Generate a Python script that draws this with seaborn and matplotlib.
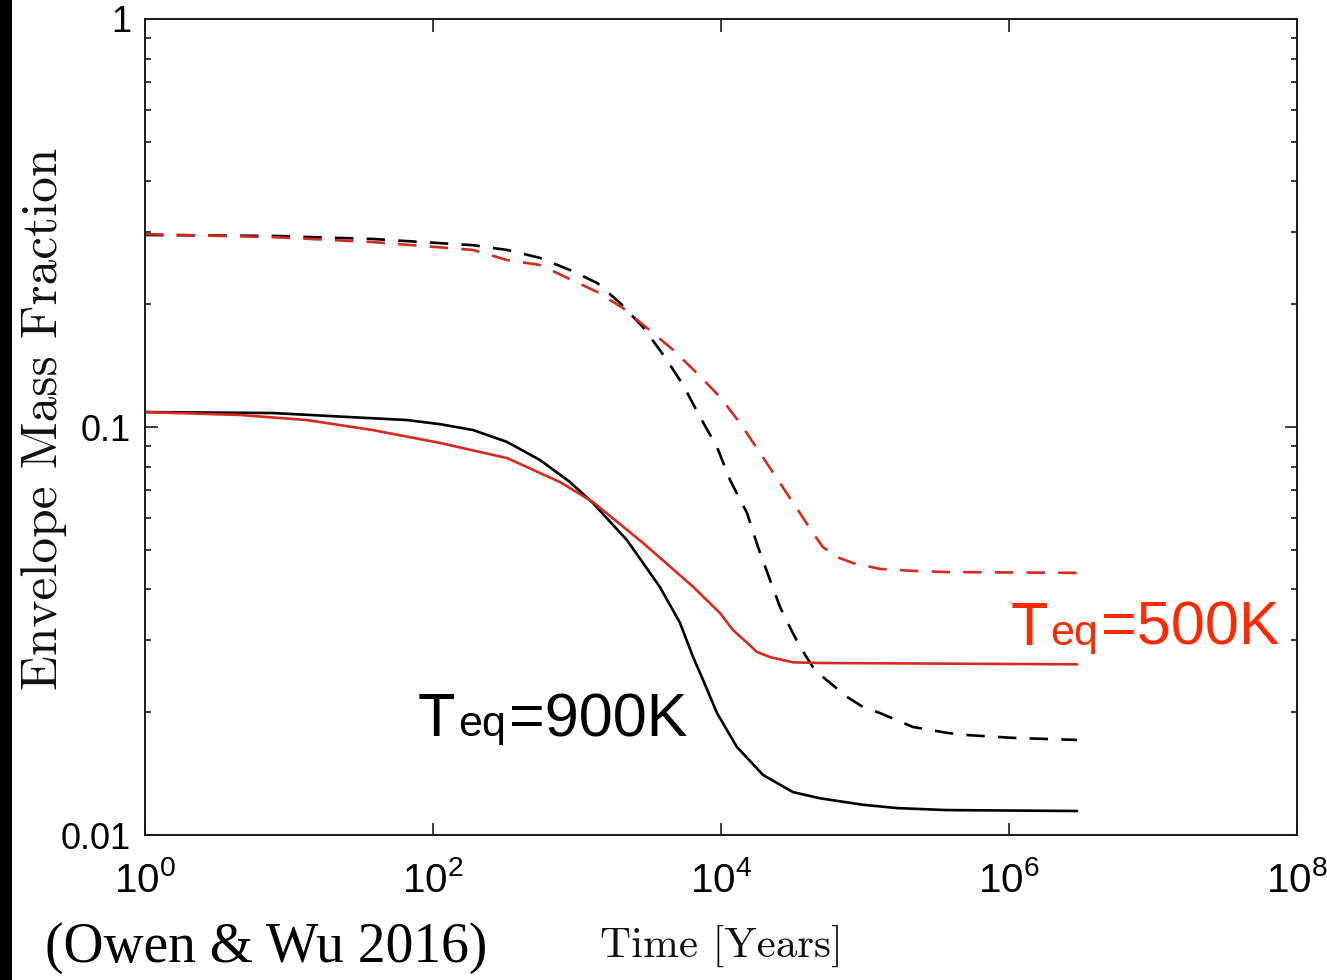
import matplotlib
matplotlib.use("Agg")
import numpy as np
import pandas as pd
import seaborn as sns
import matplotlib.pyplot as plt
from matplotlib.ticker import FixedLocator, FuncFormatter, LogLocator, NullLocator, NullFormatter
from matplotlib.patches import Rectangle
from matplotlib.offsetbox import TextArea, HPacker, AnnotationBbox

# ---- data (time in years, envelope mass fraction) ----
t_900_solid = [1, 7.7, 66, 112, 190, 327, 553, 894, 1291, 2224, 3770, 5190,
               6400, 7500, 9380, 12900, 19600, 31600, 48800, 96900, 166700,
               370000, 2970000]
f_900_solid = [0.1088, 0.1082, 0.1040, 0.1016, 0.0983, 0.0919, 0.0830, 0.0733,
               0.0651, 0.0528, 0.0405, 0.0331, 0.0273, 0.0240, 0.0199, 0.01643,
               0.01403, 0.01274, 0.0123, 0.01186, 0.01164, 0.01151, 0.01145]

t_500_solid = [1, 4.6, 13.3, 38, 112, 327, 762, 1290, 2870, 6400, 9840, 12110,
               15170, 17780, 21880, 31600, 48800, 2970000]
f_500_solid = [0.1088, 0.1070, 0.1040, 0.0983, 0.0914, 0.0839, 0.0733, 0.0655,
               0.0520, 0.0406, 0.0350, 0.0318, 0.0296, 0.0281, 0.0273, 0.0265,
               0.0264, 0.0262]

t_900_dash = [1, 7.7, 38, 190, 327, 553, 894, 1380, 1990, 2870, 4080, 5450,
              7140, 9380, 11560, 15170, 18070, 21880, 25700, 30100, 35400,
              43500, 51000, 75000, 96900, 127000, 215000, 371000, 480000,
              1070000, 2970000]
f_900_dash = [0.2955, 0.294, 0.289, 0.279, 0.2716, 0.2597, 0.2425, 0.2254,
              0.2014, 0.1758, 0.1484, 0.1268, 0.1059, 0.0893, 0.0741, 0.0615,
              0.0508, 0.0422, 0.0362, 0.0323, 0.0289, 0.0258, 0.0244, 0.0218,
              0.0206, 0.0199, 0.0184, 0.0178, 0.0176, 0.0173, 0.0171]

t_500_dash = [1, 7.7, 38, 190, 327, 553, 1380, 2080, 3060, 4650, 6800, 9840,
              13550, 18660, 25700, 35400, 43500, 51000, 63900, 82600, 127000,
              215000, 370000, 2970000]
f_500_dash = [0.297, 0.292, 0.284, 0.2716, 0.2566, 0.2495, 0.2143, 0.1958,
              0.1749, 0.1545, 0.1356, 0.1185, 0.1023, 0.0864, 0.0729, 0.0615,
              0.0550, 0.0508, 0.0480, 0.0464, 0.0449, 0.0444, 0.0441, 0.0439]

x_ticks = [1e0, 1e2, 1e4, 1e6, 1e8]
y_ticks = [0.01, 0.1, 1]
y_tick_labels = ["0.01", "0.1", "1"]

RED_LINE = "#d62a20"
RED_TEXT = "#ff2a00"

sns.set_theme(style="ticks")
plt.rcParams.update({
    "font.family": ["Liberation Sans", "DejaVu Sans"],
    "mathtext.fontset": "custom",
    "mathtext.rm": "Liberation Sans",
    "mathtext.it": "Liberation Sans",
    "mathtext.bf": "Liberation Sans:bold",
    "mathtext.default": "regular",
    "axes.edgecolor": "#1a1a1a",
    "axes.linewidth": 1.4,
    "figure.facecolor": "white",
    "axes.facecolor": "white",
})

fig = plt.figure(figsize=(13.27, 9.80), dpi=100)
ax = fig.add_axes([145 / 1327, 1 - 835 / 980, 1152 / 1327, 816 / 980])

lw = 1.9
sns.lineplot(x=t_900_dash, y=f_900_dash, ax=ax, color="black", lw=lw,
             linestyle=(0, (7, 5)), sort=False)
sns.lineplot(x=t_500_dash, y=f_500_dash, ax=ax, color=RED_LINE, lw=lw,
             linestyle=(0, (7, 5)), sort=False)
sns.lineplot(x=t_900_solid, y=f_900_solid, ax=ax, color="black", lw=lw, sort=False)
sns.lineplot(x=t_500_solid, y=f_500_solid, ax=ax, color=RED_LINE, lw=lw, sort=False)

ax.set_xscale("log")
ax.set_yscale("log")
ax.set_xlim(1, 1e8)
ax.set_ylim(0.01, 1)

ax.xaxis.set_major_locator(FixedLocator(x_ticks))
ax.xaxis.set_minor_locator(NullLocator())
ax.xaxis.set_major_formatter(FuncFormatter(lambda v, p: r"$10^{%d}$" % round(np.log10(v))))
ax.yaxis.set_major_locator(FixedLocator(y_ticks))
ax.yaxis.set_minor_locator(LogLocator(base=10, subs=np.arange(2, 10)))
ax.yaxis.set_minor_formatter(NullFormatter())
ax.yaxis.set_major_formatter(FuncFormatter(
    lambda v, p: y_tick_labels[p] if p is not None and p < len(y_tick_labels) else ""))

ax.tick_params(which="both", direction="in", top=True, right=True, colors="#1a1a1a")
ax.tick_params(which="major", length=9, width=1.2)
ax.tick_params(which="minor", length=4.5, width=1.2)
ax.tick_params(axis="x", which="major", pad=19, labelsize=29, labelcolor="black")
ax.tick_params(axis="y", which="major", pad=10, labelsize=26, labelcolor="black")

ax.set_xlabel("Time [Years]", fontfamily="cmr10", fontsize=31, color="#111111")
ax.xaxis.set_label_coords(0.5, -0.110)
ax.xaxis.label.set_va("top")
ax.set_ylabel("Envelope Mass Fraction", fontfamily="cmr10", fontsize=37, color="#111111")
ax.yaxis.set_label_coords(-0.068, 0.51)


def teq_label(rest, color, x, y):
    big = dict(fontsize=44, color=color, fontfamily="Liberation Sans")
    small = dict(fontsize=31, color=color, fontfamily="Liberation Sans")
    pack = HPacker(children=[TextArea("T", textprops=big),
                             TextArea("eq", textprops=small),
                             TextArea(rest, textprops=big)],
                   align="baseline", pad=0, sep=2)
    ab = AnnotationBbox(pack, (x, y), xycoords=ax.transAxes, box_alignment=(0, 0),
                        frameon=False, pad=0)
    ax.add_artist(ab)


teq_label("=900K", "black", 0.237, 0.105)
teq_label("=500K", RED_TEXT, 0.751, 0.217)

fig.text(45 / 1327, 1 - 962 / 980, "(Owen & Wu 2016)", fontfamily="Liberation Serif",
         fontsize=40, color="black", ha="left", va="baseline")

fig.add_artist(Rectangle((0, 0), 12 / 1327, 1, transform=fig.transFigure,
                         facecolor="black", edgecolor="none"))

fig.savefig("out.png", dpi=100)
